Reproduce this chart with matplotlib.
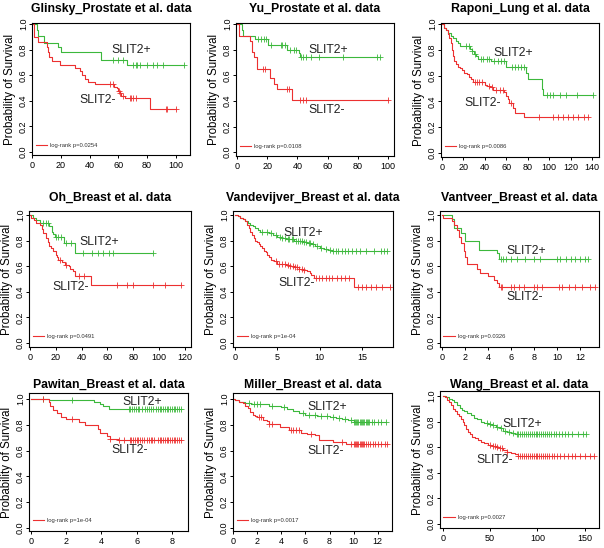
import numpy as np
import matplotlib.pyplot as plt
from matplotlib.lines import Line2D

plt.rcParams['font.family'] = ['Liberation Sans', 'DejaVu Sans']

GREEN = '#3cb83c'
RED = '#ec3030'

# ---- data: step times, survival after each step, censor times ----
glinsky_pos_t = [3, 4, 8, 18, 20, 48, 66]
glinsky_pos_s = [0.95, 0.91, 0.85, 0.82, 0.78, 0.72, 0.68]
glinsky_pos_c = [56, 60, 63, 70, 72, 73, 75, 80, 84, 87, 91, 106]
glinsky_neg_t = [1, 4, 10, 11, 12, 14, 19, 30, 33, 35, 37, 39, 44, 57, 59, 60, 61, 62, 65, 82]
glinsky_neg_s = [0.9, 0.86, 0.82, 0.78, 0.74, 0.71, 0.68, 0.66, 0.63, 0.6, 0.57, 0.55,
                 0.53, 0.51, 0.5, 0.48, 0.46, 0.44, 0.42, 0.34]
glinsky_neg_c = [54, 56, 60.5, 61.5, 63, 68, 69, 70, 72, 93, 94, 100]

yu_pos_t = [3, 4, 12, 20.5, 33, 41, 42]
yu_pos_s = [0.95, 0.91, 0.88, 0.84, 0.8, 0.77, 0.74]
yu_pos_c = [14, 16, 18, 19.4, 22.7, 29, 30, 32, 35, 37.5, 39, 42.6, 44, 45.5, 48.8, 54, 70, 93, 94.5]
yu_neg_t = [1.3, 8.4, 10, 11, 13, 22, 24.3, 26.5, 36.4]
yu_neg_s = [0.91, 0.87, 0.78, 0.74, 0.65, 0.58, 0.53, 0.49, 0.41]
yu_neg_c = [17, 18.8, 33, 34.4, 42, 44, 45.5, 100]

raponi_pos_t = [2, 4, 6, 8, 10, 13, 15, 17, 26, 28, 30, 32, 34, 46, 60, 78, 80, 93, 94]
raponi_pos_s = [0.97, 0.95, 0.93, 0.91, 0.89, 0.87, 0.85, 0.83, 0.81, 0.79, 0.77, 0.75,
                0.73, 0.71, 0.67, 0.62, 0.57, 0.5, 0.45]
raponi_pos_c = [22, 25, 28, 31, 36, 38, 42, 44, 49, 52, 55, 58, 65, 68, 71, 74, 77,
                98, 101, 104, 110, 116, 126, 141]
raponi_neg_t = [2, 4, 6, 7, 8, 9, 10, 11, 13, 15, 17, 19, 21, 23, 25, 27, 29, 40, 42, 45,
                48, 58, 60, 62, 63, 66, 68, 77]
raponi_neg_s = [0.97, 0.95, 0.92, 0.89, 0.85, 0.8, 0.75, 0.71, 0.69, 0.67, 0.66, 0.64,
                0.62, 0.61, 0.59, 0.57, 0.55, 0.53, 0.52, 0.51, 0.49, 0.47, 0.44, 0.42,
                0.39, 0.35, 0.31, 0.28]
raponi_neg_c = [31, 33, 35, 37, 44, 47, 50, 54, 57, 64, 91, 104, 108, 113, 118, 122, 127, 133, 136]

oh_pos_t = [2, 5, 8, 15, 17, 18, 19, 26, 35]
oh_pos_s = [0.98, 0.96, 0.94, 0.91, 0.87, 0.85, 0.83, 0.78, 0.7]
oh_pos_c = [10, 12, 14, 20, 22, 24, 28, 32, 41, 47.7, 53, 56.8, 61.5, 64.5, 95.5]
oh_neg_t = [1, 3, 5, 8, 9, 10, 12, 14, 15, 16, 18, 20, 21, 22, 25, 27, 30, 31, 33, 35, 47]
oh_neg_s = [0.98, 0.96, 0.94, 0.92, 0.89, 0.86, 0.82, 0.79, 0.76, 0.74, 0.72, 0.69,
            0.67, 0.65, 0.63, 0.61, 0.6, 0.58, 0.56, 0.52, 0.45]
oh_neg_c = [23, 28, 38, 42, 67.6, 75.4, 80, 95, 105, 117.4]

vdv_pos_t = [0.3, 0.6, 0.9, 1.2, 1.5, 1.8, 2.1, 2.4, 2.7, 3.0, 3.5, 4.0, 4.5, 5.0, 5.5,
             6.0, 6.5, 7.0, 7.5, 8.0, 8.5, 9.0, 9.5, 10.0, 10.5, 11.0, 11.4]
vdv_pos_s = [0.99, 0.98, 0.97, 0.95, 0.94, 0.92, 0.91, 0.9, 0.88, 0.87, 0.865, 0.86,
             0.845, 0.83, 0.82, 0.815, 0.81, 0.8, 0.795, 0.79, 0.78, 0.77, 0.76, 0.745,
             0.735, 0.725, 0.715]
vdv_pos_c = [3.2, 3.8, 4.3, 4.8, 5.3, 5.6, 5.9, 6.2, 6.4, 6.7, 6.9, 7.2, 7.4, 7.7, 7.9,
             8.2, 8.4, 8.7, 8.9, 9.2, 9.7, 10.2, 10.7, 11.2, 11.6, 11.9, 12.2, 12.6, 13.0,
             13.3, 13.8, 14.3, 14.8, 15.5, 16.4, 17.2, 17.6, 18.0]
vdv_neg_t = [0.3, 0.6, 0.9, 1.2, 1.4, 1.6, 1.8, 2.0, 2.2, 2.4, 2.6, 2.8, 3.0, 3.2, 3.4,
             3.6, 3.8, 4.0, 4.3, 4.6, 5.0, 5.5, 6.0, 6.5, 7.0, 7.5, 8.0, 8.5, 8.8, 9.0,
             9.3, 14.0]
vdv_neg_s = [0.99, 0.98, 0.97, 0.95, 0.92, 0.9, 0.87, 0.84, 0.82, 0.8, 0.79, 0.77, 0.76,
             0.74, 0.72, 0.71, 0.69, 0.67, 0.65, 0.64, 0.62, 0.615, 0.61, 0.6, 0.59, 0.58,
             0.57, 0.56, 0.55, 0.53, 0.51, 0.44]
vdv_neg_c = [4.8, 5.2, 5.6, 5.9, 6.2, 6.5, 6.8, 7.1, 7.3, 7.6, 7.9, 8.2, 9.6, 9.9, 10.3,
             10.7, 11.1, 11.5, 12.0, 12.5, 13.0, 13.5, 14.5, 15.0, 15.5, 16.0, 16.6, 17.4, 18.3]

vtv_pos_t = [0.9, 1.1, 1.7, 2.0, 3.2, 4.8, 5.0]
vtv_pos_s = [0.97, 0.9, 0.86, 0.8, 0.73, 0.7, 0.66]
vtv_pos_c = [5.1, 5.3, 5.6, 6.0, 6.5, 7.2, 8.0, 8.5, 10.0, 10.3, 10.8, 11.2, 11.6, 12.0, 12.4, 12.7]
vtv_neg_t = [0.1, 0.9, 1.1, 1.3, 1.5, 1.7, 1.9, 2.0, 2.2, 3.1, 3.3, 4.0, 4.5, 4.8, 5.0]
vtv_neg_s = [0.98, 0.95, 0.92, 0.88, 0.83, 0.78, 0.72, 0.67, 0.62, 0.58, 0.55, 0.52,
             0.49, 0.47, 0.44]
vtv_neg_c = [5.1, 5.2, 6.0, 6.3, 6.7, 7.1, 8.0, 8.3, 8.7, 10.2, 10.4, 11.0, 11.6, 12.2, 12.9, 13.3]

paw_pos_t = [1.0, 3.6, 3.9, 4.1, 4.4]
paw_pos_s = [0.99, 0.975, 0.96, 0.945, 0.925]
paw_pos_c = [0.7, 2.3, 5.55, 5.65, 5.75, 5.85, 5.95, 6.05, 6.15, 6.3, 6.45, 6.6, 6.7, 6.8,
             6.95, 7.1, 7.2, 7.3, 7.4, 7.5, 7.6, 7.7, 7.8, 7.9, 8.0, 8.1, 8.2, 8.3, 8.4, 8.5]
paw_neg_t = [1.0, 1.1, 1.25, 1.5, 1.7, 2.0, 2.7, 3.05, 3.8, 3.9, 4.3, 4.5, 4.95]
paw_neg_s = [0.98, 0.95, 0.915, 0.89, 0.86, 0.845, 0.825, 0.8, 0.77, 0.74, 0.71, 0.69, 0.68]
paw_neg_c = [0.7, 2.3, 4.5, 5.0, 5.3, 5.6, 5.7, 5.8, 5.9, 6.0, 6.1, 6.2, 6.3, 6.4, 6.6,
             6.7, 6.8, 6.9, 7.0, 7.2, 7.3, 7.4, 7.5, 7.6, 7.7, 7.8, 7.9, 8.0, 8.1, 8.2,
             8.3, 8.4, 8.5]

mil_pos_t = [0.1, 0.5, 1.0, 1.5, 2.5, 3.0, 3.5, 4.0, 4.5, 5.0, 5.5, 6.0, 7.0, 7.5, 8.0,
             8.5, 9.0, 9.5, 10.0]
mil_pos_s = [0.99, 0.98, 0.97, 0.965, 0.96, 0.95, 0.945, 0.935, 0.92, 0.91, 0.895, 0.88,
             0.87, 0.865, 0.86, 0.85, 0.845, 0.835, 0.825]
mil_pos_c = [1.3, 1.7, 2.0, 2.2, 3.2, 4.2, 5.8, 6.3, 6.8, 7.3, 7.8, 8.3, 8.8, 9.3, 9.8,
             10.0, 10.1, 10.2, 10.3, 10.4, 10.5, 10.6, 10.7, 10.8, 10.9, 11.0, 11.1,
             11.2, 11.3, 11.5, 11.7, 12.0, 12.3, 12.7]
mil_neg_t = [0.1, 0.5, 0.8, 1.0, 1.2, 1.4, 1.6, 1.8, 2.0, 2.5, 2.8, 3.0, 3.9, 4.6, 5.6,
             6.1, 6.8, 7.1, 8.3, 9.4]
mil_neg_s = [0.99, 0.98, 0.97, 0.95, 0.93, 0.9, 0.88, 0.87, 0.86, 0.84, 0.83, 0.81, 0.78,
             0.76, 0.74, 0.73, 0.72, 0.68, 0.67, 0.655]
mil_neg_c = [2.1, 2.3, 3.0, 3.2, 4.8, 5.0, 5.2, 5.5, 6.5, 9.0, 9.8, 10.0, 10.1, 10.2, 10.3,
             10.4, 10.5, 10.6, 10.7, 10.8, 10.9, 11.0, 11.2, 11.4, 11.6, 11.8, 12.0, 12.3,
             12.6, 12.8]

wang_pos_t = [4, 7, 10, 12, 15, 18, 20, 23, 26, 30, 33, 36, 40, 44, 48, 52, 56, 60, 64,
              68, 72, 76]
wang_pos_s = [0.99, 0.98, 0.97, 0.95, 0.93, 0.91, 0.89, 0.88, 0.87, 0.85, 0.83, 0.82,
              0.8, 0.79, 0.78, 0.77, 0.76, 0.75, 0.73, 0.72, 0.71, 0.7]
wang_pos_c = [47, 50, 53, 57, 62, 66, 70, 74, 78, 80, 82, 84, 86, 88, 90, 92, 94, 96, 98,
              100, 102, 104, 106, 108, 110, 112, 114, 117, 120, 123, 126, 129, 132, 137,
              143, 148, 151]
wang_neg_t = [3, 5, 7, 9, 11, 13, 15, 17, 19, 21, 23, 25, 27, 29, 31, 34, 37, 40, 44, 48,
              52, 56, 60, 64, 68, 72, 76, 79]
wang_neg_s = [0.99, 0.97, 0.95, 0.93, 0.9, 0.88, 0.86, 0.84, 0.82, 0.8, 0.77, 0.74, 0.72,
              0.7, 0.68, 0.67, 0.655, 0.64, 0.63, 0.62, 0.61, 0.6, 0.59, 0.575, 0.565,
              0.555, 0.545, 0.535]
wang_neg_c = [50, 53, 55, 57, 60, 63, 68, 80, 82, 84, 86, 88, 90, 92, 94, 96, 98, 100, 102,
              104, 106, 108, 110, 112, 115, 118, 121, 124, 128, 132, 136, 140, 145, 150,
              155, 160]

titles = ['Glinsky_Prostate et al. data', 'Yu_Prostate et al. data', 'Raponi_Lung et al. data',
          'Oh_Breast et al. data', 'Vandevijver_Breast et al. data', 'Vantveer_Breast et al. data',
          'Pawitan_Breast et al. data', 'Miller_Breast et al. data', 'Wang_Breast et al. data']
pvalues = ['0.0254', '0.0108', '0.0086', '0.0491', '1e-04', '0.0326', '1e-04', '0.0017', '0.0027']

curves = [
    (glinsky_pos_t, glinsky_pos_s, glinsky_pos_c, glinsky_neg_t, glinsky_neg_s, glinsky_neg_c),
    (yu_pos_t, yu_pos_s, yu_pos_c, yu_neg_t, yu_neg_s, yu_neg_c),
    (raponi_pos_t, raponi_pos_s, raponi_pos_c, raponi_neg_t, raponi_neg_s, raponi_neg_c),
    (oh_pos_t, oh_pos_s, oh_pos_c, oh_neg_t, oh_neg_s, oh_neg_c),
    (vdv_pos_t, vdv_pos_s, vdv_pos_c, vdv_neg_t, vdv_neg_s, vdv_neg_c),
    (vtv_pos_t, vtv_pos_s, vtv_pos_c, vtv_neg_t, vtv_neg_s, vtv_neg_c),
    (paw_pos_t, paw_pos_s, paw_pos_c, paw_neg_t, paw_neg_s, paw_neg_c),
    (mil_pos_t, mil_pos_s, mil_pos_c, mil_neg_t, mil_neg_s, mil_neg_c),
    (wang_pos_t, wang_pos_s, wang_pos_c, wang_neg_t, wang_neg_s, wang_neg_c),
]

# ---- layout (pixel frames: left, top, right, bottom) ----
W, H = 604, 548
frames = [(32, 23, 190, 155), (236, 23, 394, 156), (441, 23, 599, 157),
          (29, 211, 191, 347), (233, 211, 393, 347), (440, 211, 599, 347),
          (29, 393, 188, 531), (233, 393, 392, 531), (440, 391, 599, 528)]
xlims = [(-0.2, 110), (-0.66, 104), (-0.9, 146.6), (-0.8, 124.8), (-0.24, 18.65),
         (-0.15, 13.64), (-0.12, 8.92), (-0.03, 13.2), (-2.8, 165)]
ylims = [(-0.023, 1.008), (-0.03, 1.008), (-0.031, 1.008), (-0.031, 1.031), (-0.031, 1.031),
         (-0.031, 1.031), (-0.023, 1.047), (-0.023, 1.047), (-0.031, 1.039)]
xticks = [range(0, 101, 20), range(0, 101, 20), range(0, 141, 20), range(0, 121, 20),
          [0, 5, 10, 15], range(0, 13, 2), range(0, 9, 2), range(0, 13, 2), [0, 50, 100, 150]]
pos_xy = [(55, 0.795), (47, 0.8), (48, 0.773), (38, 0.79), (5.7, 0.857), (5.6, 0.722),
          (5.2, 0.975), (6.2, 0.935), (63, 0.78)]
neg_xy = [(33, 0.405), (47, 0.33), (21, 0.387), (17.5, 0.436), (5.1, 0.467), (5.6, 0.358),
          (4.57, 0.605), (6.2, 0.6), (36, 0.5)]
title_y = [9, 9, 9, 198, 198, 198, 385, 385, 385]


def draw_km(ax, t, s, c, color):
    t = np.r_[0.0, t]
    s = np.r_[1.0, s]
    c = np.asarray(c, float)
    end = max(t[-1], c.max())
    ax.step(np.r_[t, end], np.r_[s, s[-1]], where='post', color=color, lw=0.8)
    lvl = s[np.searchsorted(t, c, side='right') - 1]
    ax.plot(c, lvl, ls='none', marker='+', ms=4, mew=0.6, color=color)


fig = plt.figure(figsize=(W / 100, H / 100), dpi=100)

for i in range(9):
    x0, y0, x1, y1 = frames[i]
    ax = fig.add_axes([x0 / W, 1 - y1 / H, (x1 - x0) / W, (y1 - y0) / H])
    pt, ps, pc, nt, ns, nc = curves[i]
    draw_km(ax, pt, ps, pc, GREEN)
    draw_km(ax, nt, ns, nc, RED)

    ax.set_xlim(*xlims[i])
    ax.set_ylim(*ylims[i])
    ax.set_xticks(list(xticks[i]))
    ax.set_xticklabels([str(v) for v in xticks[i]], fontsize=6.5)
    yt = [0, 0.2, 0.4, 0.6, 0.8, 1.0]
    ax.set_yticks(yt)
    ax.set_yticklabels(['%.1f' % v for v in yt], fontsize=6.5, rotation=90, va='center')
    ax.tick_params(axis='x', length=2.2, width=0.7, pad=2)
    ax.tick_params(axis='y', length=2.0, width=0.7, pad=0.8)
    for sp in ax.spines.values():
        sp.set_linewidth(0.8)

    ax.text(*pos_xy[i], 'SLIT2+', fontsize=8.8, va='center', ha='left', color='#222222')
    ax.text(*neg_xy[i], 'SLIT2-', fontsize=8.8, va='center', ha='left', color='#222222')

    ax.legend(handles=[Line2D([], [], color=RED, lw=0.8)],
              labels=['log-rank p=' + pvalues[i]],
              loc='center left', bbox_to_anchor=(0, 0.075), frameon=False,
              fontsize=4.2, handlelength=1.9, handletextpad=0.6, borderaxespad=0.2,
              labelcolor='#333333')

    fig.text((x0 + x1) / 2 / W, 1 - title_y[i] / H, titles[i], fontsize=8.8,
             fontweight='bold', ha='center', va='center')
    fig.text((x0 - 21.8) / W, 1 - (y0 + y1) / 2 / H, 'Probability of Survival',
             fontsize=8.3, rotation=90, ha='center', va='center')

fig.savefig('out.png', dpi=100)
